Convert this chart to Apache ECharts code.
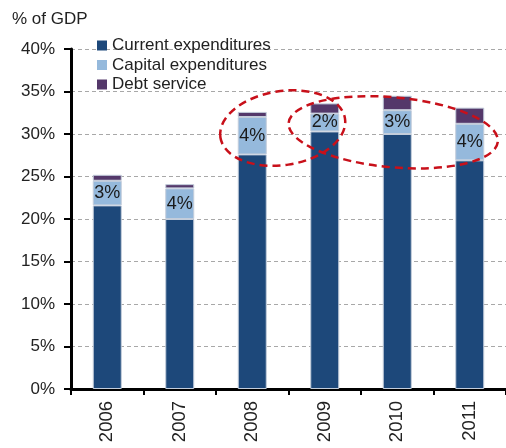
<!DOCTYPE html>
<html>
<head>
<meta charset="utf-8">
<script src="https://cdn.jsdelivr.net/npm/echarts@6/dist/echarts.min.js"></script>
<style>html,body{margin:0;padding:0;background:#fff}#c{width:506px;height:448px}</style>
</head>
<body>
<div id="c"></div>
<script>
var years = ['2006','2007','2008','2009','2010','2011'];
var currentExp = [21.6, 20.0, 27.6, 30.3, 30.0, 26.9];
var capitalExp = [2.9, 3.6, 4.4, 2.1, 2.8, 4.3];
var debtService = [0.7, 0.5, 0.6, 1.2, 1.7, 1.9];
var capitalLabels = ['3%','4%','4%','2%','3%','4%'];
var yTicks = [0,5,10,15,20,25,30,35,40];

var FONT = '"Liberation Sans", Arial, sans-serif';
var chart = echarts.init(document.getElementById('c'), null, {renderer:'canvas'});
var border = {borderColor:'#c3cddb', borderWidth:1};
chart.setOption({
  animation:false,
  textStyle:{fontFamily:FONT},
  title:{text:'% of GDP', left:7, top:6, textStyle:{fontFamily:FONT, fontSize:17, fontWeight:'normal', color:'#222'}},
  legend:{orient:'vertical', left:92, top:32, itemWidth:10, itemHeight:10, itemGap:2.5, icon:'rect',
    itemStyle:{borderWidth:0},
    textStyle:{fontFamily:FONT, fontSize:17, color:'#222', lineHeight:17},
    data:['Current expenditures','Capital expenditures','Debt service']},
  grid:{left:71, right:0, top:49, bottom:59, containLabel:false},
  xAxis:{type:'category', data:years, boundaryGap:true,
    axisLine:{lineStyle:{color:'#000', width:3}},
    axisTick:{show:true, length:6, lineStyle:{color:'#000', width:2}},
    axisLabel:{rotate:90, margin:12, fontFamily:FONT, fontSize:18.5, color:'#222'}},
  yAxis:{type:'value', min:yTicks[0], max:yTicks[yTicks.length-1], interval:5,
    axisLine:{show:true, lineStyle:{color:'#000', width:3}},
    axisTick:{show:true, length:7, lineStyle:{color:'#000', width:2}},
    axisLabel:{margin:16, fontFamily:FONT, fontSize:17, color:'#222', formatter:'{value}%'},
    splitLine:{show:true, lineStyle:{color:'#a8a8a8', type:[4,3], width:1}}},
  series:[
    {name:'Current expenditures', type:'bar', stack:'a', barWidth:'40%', data:currentExp,
     itemStyle:Object.assign({color:'#1d487a'}, border)},
    {name:'Capital expenditures', type:'bar', stack:'a', data:capitalExp,
     itemStyle:Object.assign({color:'#95b9dc'}, border),
     label:{show:true, position:'inside', fontFamily:FONT, fontSize:18, color:'#1a1a1a',
       formatter:function(p){return capitalLabels[p.dataIndex];}}},
    {name:'Debt service', type:'bar', stack:'a', data:debtService,
     itemStyle:Object.assign({color:'#54386a'}, border)}
  ]
});

function px(idx, val){ return chart.convertToPixel({xAxisIndex:0, yAxisIndex:0}, [idx, val]); }
var p2 = px(2, 30.7), p3 = px(3, 30.7), p4 = px(4, 30.2);
var e1x = p2[0] + 0.42*(p3[0]-p2[0]);
var ellStyle = {fill:'none', stroke:'#c8101a', lineWidth:2.5, lineDash:[8,5]};
chart.setOption({graphic:[
  {type:'ellipse', x:e1x, y:p2[1], rotation:0.15, shape:{cx:0, cy:0, rx:63, ry:37}, style:ellStyle, z:100},
  {type:'ellipse', x:p4[0]-4, y:p4[1], rotation:-0.09, shape:{cx:0, cy:0, rx:105, ry:35}, style:ellStyle, z:100}
]});
</script>
</body>
</html>
